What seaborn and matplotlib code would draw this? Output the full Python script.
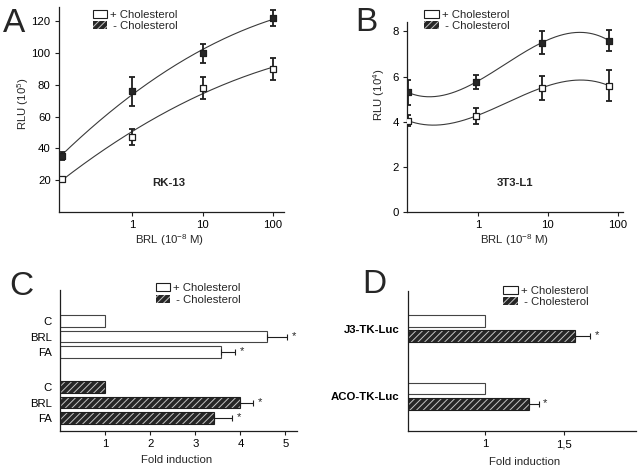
import numpy as np
import pandas as pd
import matplotlib
matplotlib.use("Agg")
import matplotlib.pyplot as plt
import seaborn as sns
from matplotlib.patches import Patch
from matplotlib.ticker import NullLocator

# ---- data ----
# A: RK-13, RLU (10^5)
doses_a = [0.1, 1, 10, 100]
plus_a = [21, 47, 78, 90]
plus_a_err = [1.2, 5, 7, 7]
minus_a = [35, 76, 100, 122]
minus_a_err = [2.5, 9, 6, 5]

# B: 3T3-L1, RLU (10^4)
doses_b = [0.1, 0.93, 8.1, 74]
plus_b = [4.05, 4.25, 5.5, 5.6]
plus_b_err = [0.25, 0.35, 0.52, 0.7]
minus_b = [5.3, 5.75, 7.5, 7.6]
minus_b_err = [0.57, 0.3, 0.52, 0.45]

# C: fold induction
labels_c = ["C", "BRL", "FA"]
plus_c = [1.0, 4.58, 3.57]
plus_c_err = [0, 0.46, 0.32]
minus_c = [1.0, 3.99, 3.42]
minus_c_err = [0, 0.3, 0.4]
signif_c = [False, True, True]

# D: fold induction
constructs_d = ["J3-TK-Luc", "ACO-TK-Luc"]
plus_d = [1.0, 1.0]
minus_d = [1.57, 1.28]
minus_d_err = [0.1, 0.065]

LEG_PLUS = "+ Cholesterol"
LEG_MINUS = " - Cholesterol"

# ---- style ----
sns.set_theme(style="ticks")
plt.rcParams["font.family"] = ["Liberation Sans", "DejaVu Sans"]
plt.rcParams["mathtext.fontset"] = "custom"
plt.rcParams["mathtext.rm"] = "Liberation Sans"
plt.rcParams["mathtext.it"] = "Liberation Sans:italic"
plt.rcParams["mathtext.bf"] = "Liberation Sans:bold"
plt.rcParams["hatch.linewidth"] = 0.7
INK = "#1e1e1e"
DARK = "#262626"
STRIPE = "#c4c4c4"
HATCH = "/////"
FS = 8.2

W, H = 639, 471
fig = plt.figure(figsize=(W / 100, H / 100), dpi=100)


def px_axes(l, t, r, b):
    return fig.add_axes([l / W, 1 - b / H, (r - l) / W, (b - t) / H])


def legend_handles():
    return [Patch(facecolor="white", edgecolor=INK, linewidth=0.8),
            Patch(facecolor=DARK, edgecolor=STRIPE, hatch=HATCH, linewidth=0)]


def add_legend(ax, x, y):
    ax.legend(legend_handles(), [LEG_PLUS, LEG_MINUS], loc="upper left",
              bbox_to_anchor=(x, y), frameon=False, fontsize=FS,
              handlelength=1.25, handleheight=0.7, handletextpad=0.3,
              labelspacing=0.12, borderpad=0, borderaxespad=0)


def style_axes(ax):
    sns.despine(ax=ax)
    for s in ("left", "bottom"):
        ax.spines[s].set_color(INK)
        ax.spines[s].set_linewidth(0.9)
    ax.tick_params(axis="both", direction="out", length=3, width=0.8,
                   labelsize=FS, pad=3, color=INK, labelcolor="black")


def dose_panel(ax, doses, plus, plus_err, minus, minus_err, deg):
    ax.set_xscale("log")
    for vals, errs, face in ((minus, minus_err, DARK), (plus, plus_err, "white")):
        t = np.log10(doses)
        coef = np.polyfit(t, vals, deg)
        tt = np.linspace(t[0], t[-1], 200)
        sns.lineplot(x=10 ** tt, y=np.polyval(coef, tt), ax=ax, color="#3a3a3a",
                     linewidth=0.8, sort=False)
        ax.errorbar(doses, vals, yerr=errs, fmt="none", ecolor=INK,
                    elinewidth=1.3, capsize=2.5, capthick=1.3, zorder=3)
        sns.scatterplot(x=doses, y=vals, ax=ax, marker="s", s=20, color=face,
                        edgecolor=INK, linewidth=0.9, zorder=4)
    ax.set_xticks([1, 10, 100])
    ax.set_xticklabels(["1", "10", "100"])
    ax.xaxis.set_minor_locator(NullLocator())
    ax.set_xlabel("BRL (10$^{-8}$ M)", fontsize=FS)
    style_axes(ax)


# ---- A ----
axA = px_axes(59, 7, 284, 212)
dose_panel(axA, doses_a, plus_a, plus_a_err, minus_a, minus_a_err, 2)
axA.set_xlim(0.092, 143)
axA.set_ylim(0, 129)
axA.set_yticks([20, 40, 60, 80, 100, 120])
axA.set_ylabel("RLU (10$^{5}$)", fontsize=FS)
axA.yaxis.set_label_coords(-0.125, 0.53)
axA.xaxis.set_label_coords(0.493, -0.098)
axA.text(0.488, 0.141, "RK-13", transform=axA.transAxes, ha="center",
         va="center", fontsize=FS, fontweight="bold")
add_legend(axA, 0.15, 0.985)

# ---- B ----
axB = px_axes(407, 22, 623, 212)
dose_panel(axB, doses_b, plus_b, plus_b_err, minus_b, minus_b_err, 3)
axB.set_xlim(0.097, 118)
axB.set_ylim(0, 8.42)
axB.set_yticks([0, 2, 4, 6, 8])
axB.set_ylabel("RLU (10$^{4}$)", fontsize=FS)
axB.yaxis.set_label_coords(-0.093, 0.616)
axB.xaxis.set_label_coords(0.5, -0.105)
axB.text(0.5, 0.153, "3T3-L1", transform=axB.transAxes, ha="center",
         va="center", fontsize=FS, fontweight="bold")
add_legend(axB, 0.08, 1.063)


def bar_panel(ax, df, width):
    sns.barplot(data=df, x="fold", y="pos", hue="group", orient="y",
                native_scale=True, width=width, dodge=False, legend=False,
                palette={"+": "white", "-": DARK}, edgecolor="#444444",
                linewidth=0.8, errorbar=None, ax=ax)
    for p in ax.patches:
        if p.get_facecolor()[0] < 0.5:
            p.set_hatch(HATCH)
            p.set_edgecolor(STRIPE)
            p.set_linewidth(0)
    dark = df[df.group == "-"]
    ax.barh(dark.pos, dark.fold, height=width, fill=False, edgecolor=INK,
            linewidth=0.8)
    e = df[df.err > 0]
    ax.errorbar(e.fold, e.pos, xerr=[np.zeros(len(e)), e.err], fmt="none",
                ecolor=INK, elinewidth=0.8, capsize=2.5, capthick=0.8)
    style_axes(ax)
    ax.tick_params(axis="y", length=0, pad=6)
    ax.set_xlabel("Fold induction", fontsize=FS)
    ax.set_ylabel("")


# ---- C ----
GAP_C = 4.3
pos_c = [i for i in range(len(labels_c))] + [GAP_C + i for i in range(len(labels_c))]
df_c = pd.DataFrame({
    "fold": plus_c + minus_c,
    "err": plus_c_err + minus_c_err,
    "pos": pos_c,
    "group": ["+"] * len(plus_c) + ["-"] * len(minus_c),
    "star": signif_c + signif_c,
})
axC = px_axes(60.3, 290, 296.7, 430.7)
bar_panel(axC, df_c, 0.75)
for _, r in df_c[df_c.star].iterrows():
    axC.text(r.fold + r.err + 0.14, r.pos - 0.05, "*", ha="center",
             va="center", fontsize=FS)
axC.set_xlim(0, 5.25)
axC.set_ylim(7.13, -2.03)
axC.set_xticks([1, 2, 3, 4, 5])
axC.set_yticks(pos_c)
axC.set_yticklabels(labels_c + labels_c)
axC.xaxis.set_label_coords(0.492, -0.173)
add_legend(axC, 0.404, 1.048)

# ---- D ----
GAP_D = 4.37
centers_d = [i * GAP_D for i in range(len(constructs_d))]
df_d = pd.DataFrame({
    "fold": plus_d + minus_d,
    "err": [0] * len(plus_d) + minus_d_err,
    "pos": [c - 0.5 for c in centers_d] + [c + 0.5 for c in centers_d],
    "group": ["+"] * len(plus_d) + ["-"] * len(minus_d),
})
axD = px_axes(407.7, 290.7, 636, 431)
bar_panel(axD, df_d, 0.77)
for _, r in df_d[df_d.err > 0].iterrows():
    axD.text(r.fold + r.err + 0.04, r.pos - 0.05, "*", ha="center",
             va="center", fontsize=FS)
axD.set_xlim(0.51, 1.96)
axD.set_ylim(6.61, -2.44)
axD.set_xticks([1, 1.5])
axD.set_xticklabels(["1", "1,5"])
axD.set_yticks(centers_d)
axD.set_yticklabels(constructs_d, fontweight="bold")
axD.xaxis.set_label_coords(0.514, -0.183)
add_legend(axD, 0.419, 1.036)

# ---- panel letters ----
for letter, x, y in (("A", 3, 32), ("B", 355, 31), ("C", 9, 295), ("D", 362, 293)):
    fig.text(x / W, 1 - y / H, letter, fontsize=24, ha="left", va="baseline")

fig.savefig("out.png", dpi=100)
